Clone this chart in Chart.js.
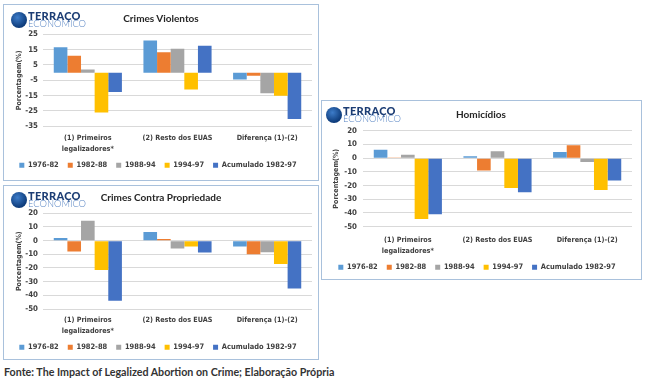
<!DOCTYPE html>
<html><head><meta charset="utf-8">
<script src="https://cdn.jsdelivr.net/npm/chart.js@4"></script>
<style>
body{margin:0;background:#fff;width:650px;height:383px;position:relative;overflow:hidden;font-family:Lato,sans-serif;}
.panel{position:absolute;border:1px solid #a9c1dc;background:#fff;box-sizing:border-box;}
.panel canvas{position:absolute;left:0;top:0;}
.ttl{position:absolute;font:bold 10px Lato;color:#262626;white-space:nowrap;transform:translate(-50%,-50%);}
.logo{position:absolute;width:80px;height:20px;}
.logo .c{position:absolute;left:0;top:2px;width:16px;height:16px;border-radius:50%;background:radial-gradient(circle at 40% 35%,#3d7cc9,#0d3b7a 70%);}
.logo .t1{position:absolute;left:17px;top:-1px;font:900 11px Lato;color:#1c3d74;letter-spacing:0.3px;}
.logo .t2{position:absolute;left:17px;top:8px;font:300 9.4px Lato;color:#5a86c4;letter-spacing:0;}
.foot{position:absolute;left:4px;top:365px;font:bold 10.7px Lato;color:#333;white-space:nowrap;}
</style></head>
<body>
<div class="panel" style="left:3px;top:4px;width:316px;height:177px;">
  <canvas id="c1" width="314" height="175"></canvas>
  <div class="logo" style="left:7px;top:5px;"><div class="c"></div><div class="t1">TERRAÇO</div><div class="t2">ECONÔMICO</div></div>
  <div class="ttl" style="left:157px;top:13px;">Crimes Violentos</div>
</div>
<div class="panel" style="left:3px;top:185px;width:316px;height:175px;">
  <canvas id="c2" width="314" height="173"></canvas>
  <div class="logo" style="left:7px;top:4px;"><div class="c"></div><div class="t1">TERRAÇO</div><div class="t2">ECONÔMICO</div></div>
  <div class="ttl" style="left:157px;top:11px;">Crimes Contra Propriedade</div>
</div>
<div class="panel" style="left:321px;top:100px;width:321px;height:180px;">
  <canvas id="c3" width="319" height="178"></canvas>
  <div class="logo" style="left:4px;top:4px;"><div class="c"></div><div class="t1">TERRAÇO</div><div class="t2">ECONÔMICO</div></div>
  <div class="ttl" style="left:159px;top:13px;">Homicídios</div>
</div>
<div class="foot">Fonte: The Impact of Legalized Abortion on Crime; Elaboração Própria</div>
<script>
const categories = [["(1) Primeiros", "legalizadores*"], "(2) Resto dos EUAS", "Diferença (1)-(2)"];
const seriesNames = ["1976-82", "1982-88", "1988-94", "1994-97", "Acumulado 1982-97"];
const seriesColors = ["#5b9bd5", "#ed7d31", "#a5a5a5", "#ffc000", "#4472c4"];

// Crimes Violentos
const violentos7682 = [16.5, 21, -4.5];
const violentos8288 = [11, 13.3, -2];
const violentos8894 = [2, 15.5, -13.5];
const violentos9497 = [-26, -11, -15];
const violentosAcum = [-12.7, 17.6, -30.3];
const violentosTicks = [25, 15, 5, -5, -15, -25, -35];

// Crimes Contra Propriedade
const propriedade7682 = [2, 6.3, -4.3];
const propriedade8288 = [-8, 1.2, -9.9];
const propriedade8894 = [14.5, -5.8, -8.5];
const propriedade9497 = [-21.5, -4.3, -17];
const propriedadeAcum = [-44, -8.7, -35];
const propriedadeTicks = [20, 10, 0, -10, -20, -30, -40, -50];

// Homicídios
const homicidios7682 = [6.2, 1.4, 4.5];
const homicidios8288 = [0.5, -9, 9.3];
const homicidios8894 = [2.4, 5, -2.9];
const homicidios9497 = [-44.3, -21.7, -23.3];
const homicidiosAcum = [-41, -24.8, -16.4];
const homicidiosTicks = [20, 10, 0, -10, -20, -30, -40, -50];

const mctx = document.createElement('canvas').getContext('2d');
function pickFont() {
  const test = "Acumulado 1982-97 mmmwwwiii";
  for (const f of ["Liberation Sans Narrow", "DejaVu Sans Condensed"]) {
    mctx.font = 'bold 20px monospace'; const w0 = mctx.measureText(test).width;
    mctx.font = 'bold 20px "' + f + '", monospace'; const w1 = mctx.measureText(test).width;
    if (Math.abs(w1 - w0) > 0.5) return f;
  }
  return "Lato";
}
const FONT = pickFont();
function fitSize(text, target) {
  mctx.font = 'bold 10px "' + FONT + '"';
  return Math.max(7, Math.min(10, 10 * target / mctx.measureText(text).width));
}
const FS = fitSize("Acumulado 1982-97", 75);
const FS_TICK = FS * 1.05;
const FS_CAT = fitSize("(2) Resto dos EUAS", 70);
const FS_TTL = fitSize("Porcentagem(%)", 60);
const LEG_PAD = 9;
const TXT = '#404040';

function makeChart(id, seriesData, ticks, g) {
  const canvas = document.getElementById(id);
  const legH = LEG_PAD * 2 + FS;
  const H = Math.round(g.legendCenter + LEG_PAD + FS / 2);
  canvas.height = H;
  const xH = H - legH - g.plotBottom;
  const lh = 11;
  const datasets = seriesData.map((d, i) => ({
    label: seriesNames[i], data: d, backgroundColor: seriesColors[i],
    borderWidth: 0, categoryPercentage: 0.76, barPercentage: 1.0
  }));
  return new Chart(canvas, {
    type: 'bar',
    data: { labels: categories, datasets },
    options: {
      responsive: false, animation: false,
      layout: { padding: { top: g.plotTop, right: g.padRight, bottom: 0, left: 0 } },
      plugins: {
        legend: { position: 'bottom', labels: { boxWidth: 5, boxHeight: 5, padding: LEG_PAD, color: TXT, font: { family: FONT, size: FS, weight: 'bold' } } },
        tooltip: { enabled: false }
      },
      scales: {
        x: { grid: { display: false, drawTicks: false }, border: { display: false },
             afterFit: s => { s.height = xH; s._computeLabelArea = () => undefined; },
             ticks: { color: TXT, font: { family: FONT, size: FS_CAT, weight: 'bold', lineHeight: lh / FS_CAT }, maxRotation: 0, autoSkip: false, padding: g.labelGap - lh / 2 } },
        y: { min: ticks[ticks.length - 1], max: ticks[0],
             afterBuildTicks: s => { s.ticks = ticks.map(v => ({ value: v })); },
             afterFit: s => { s.width = g.yWidth; },
             grid: { color: '#d9d9d9', drawTicks: false }, border: { display: false },
             ticks: { color: TXT, autoSkip: false, font: { family: FONT, size: FS_TICK, weight: 'bold' }, padding: g.tickPad },
             title: { display: true, text: 'Porcentagem(%)', color: TXT, font: { family: FONT, size: FS_TTL, weight: 'bold', lineHeight: lh / FS_TTL }, padding: { top: g.titleX - lh / 2, bottom: 0 } } }
      }
    }
  });
}
makeChart('c1', [violentos7682, violentos8288, violentos8894, violentos9497, violentosAcum], violentosTicks,
  { plotTop: 29.3, plotBottom: 122.3, labelGap: 11.7, legendCenter: 161, yWidth: 39, padRight: 6, tickPad: 5, titleX: 15 });
makeChart('c2', [propriedade7682, propriedade8288, propriedade8894, propriedade9497, propriedadeAcum], propriedadeTicks,
  { plotTop: 27.3, plotBottom: 124, labelGap: 11, legendCenter: 162, yWidth: 39, padRight: 6, tickPad: 5, titleX: 15 });
makeChart('c3', [homicidios7682, homicidios8288, homicidios8894, homicidios9497, homicidiosAcum], homicidiosTicks,
  { plotTop: 29.7, plotBottom: 126.7, labelGap: 13, legendCenter: 167.3, yWidth: 41, padRight: 9, tickPad: 6, titleX: 14.3 });
</script>
</body></html>
